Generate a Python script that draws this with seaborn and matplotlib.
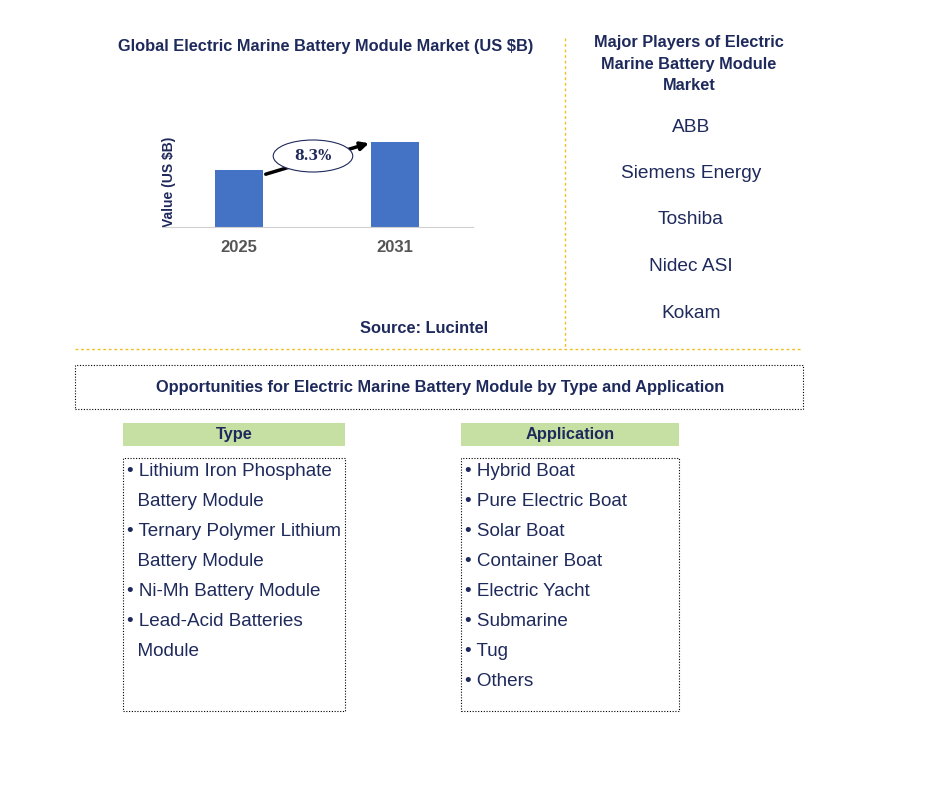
import matplotlib
matplotlib.use('Agg')
import matplotlib.pyplot as plt
import seaborn as sns
import pandas as pd
from matplotlib.patches import Rectangle, Ellipse

years = ["2025", "2031"]
values = [1.0, 1.49]
cagr_label = "8.3%"
players = ["ABB", "Siemens Energy", "Toshiba", "Nidec ASI", "Kokam"]
type_items = ["• Lithium Iron Phosphate", "  Battery Module", "• Ternary Polymer Lithium",
              "  Battery Module", "• Ni-Mh Battery Module", "• Lead-Acid Batteries", "  Module"]
app_items = ["• Hybrid Boat", "• Pure Electric Boat", "• Solar Boat", "• Container Boat",
             "• Electric Yacht", "• Submarine", "• Tug", "• Others"]

plt.rcParams["font.family"] = "Liberation Sans"
W, H = 932, 797
NAVY = "#1f2a5c"
fig = plt.figure(figsize=(W / 100, H / 100), dpi=100)


def fx(x):
    return x / W


def fy(y):
    return 1 - y / H


# bar chart
ax = fig.add_axes([fx(162), fy(227), fx(311), (227 - 120) / H])
df = pd.DataFrame({"year": years, "value": values})
sns.barplot(data=df, x="year", y="value", color="#4472c4", width=0.31, saturation=1, ax=ax)
ax.set_xlim(-0.494, 1.5)
ymax = values[1] * 107 / 85
ax.set_ylim(0, ymax)
ax.set_yticks([])
ax.set_xlabel("")
ax.set_ylabel("Value (US $B)", color=NAVY, fontsize=10, fontweight="bold", labelpad=1)
ax.yaxis.set_label_coords(0.044, 0.42)
for s in ["top", "right", "left"]:
    ax.spines[s].set_visible(False)
ax.spines["bottom"].set_color("#d0d0d0")
ax.tick_params(axis="x", length=0, pad=9, labelsize=12, labelcolor="#555555")
for t in ax.get_xticklabels():
    t.set_fontweight("bold")
px = ymax / 107
ax.annotate("", xy=(0.85, values[1] * 0.995), xytext=(0.154, 52 * px),
            arrowprops=dict(arrowstyle="-|>", color="black", lw=2.5, mutation_scale=12))
ax.add_patch(Ellipse((0.474, 71 * px), 0.51, 32 * px, facecolor="white",
                     edgecolor=NAVY, lw=0.8, zorder=5, clip_on=False))
ax.text(0.474, 71 * px, cagr_label, ha="center", va="center", fontsize=10,
        fontweight="bold", color=NAVY, zorder=6, family="DejaVu Serif")

fig.text(fx(326), fy(47), "Global Electric Marine Battery Module Market (US $B)",
         ha="center", va="center", fontsize=11.8, fontweight="bold", color=NAVY)
fig.text(fx(424), fy(329), "Source: Lucintel", ha="center", va="center",
         fontsize=11.8, fontweight="bold", color=NAVY)

# separators
fig.add_artist(plt.Line2D([fx(565), fx(565)], [fy(38), fy(348)], color="#f0c020", lw=1, ls=(0, (2, 2))))
fig.add_artist(plt.Line2D([fx(75), fx(802)], [fy(349), fy(349)], color="#f0c020", lw=1, ls=(0, (2, 2))))

fig.text(fx(689), fy(64), "Major Players of Electric\nMarine Battery Module\nMarket", ha="center",
         va="center", fontsize=11.8, fontweight="bold", color=NAVY, linespacing=1.5)
for i, p in enumerate(players):
    fig.text(fx(691), fy(127 + i * 46.5), p, ha="center", va="center", fontsize=13.8, color=NAVY)


def box(x0, y0, x1, y1, fc="none", ec="black", ls=(0, (1, 1.5))):
    fig.add_artist(Rectangle((fx(x0), fy(y1)), fx(x1 - x0), (y1 - y0) / H,
                             facecolor=fc, edgecolor=ec, lw=0.8, ls=ls))


box(75, 365, 803, 409)
fig.text(fx(440), fy(388), "Opportunities for Electric Marine Battery Module by Type and Application",
         ha="center", va="center", fontsize=11.8, fontweight="bold", color=NAVY)

for x0, x1, title, items in [(123, 345, "Type", type_items), (461, 679, "Application", app_items)]:
    box(x0, 423, x1, 446, fc="#c6e0a4", ec="none", ls="-")
    fig.text(fx((x0 + x1) / 2), fy(435), title, ha="center", va="center",
             fontsize=11.8, fontweight="bold", color=NAVY)
    box(x0, 458, x1, 711)
    for i, it in enumerate(items):
        fig.text(fx(x0 + 4), fy(472 + i * 30), it, ha="left", va="center", fontsize=13.6, color=NAVY)

fig.savefig("out.png", dpi=100)
